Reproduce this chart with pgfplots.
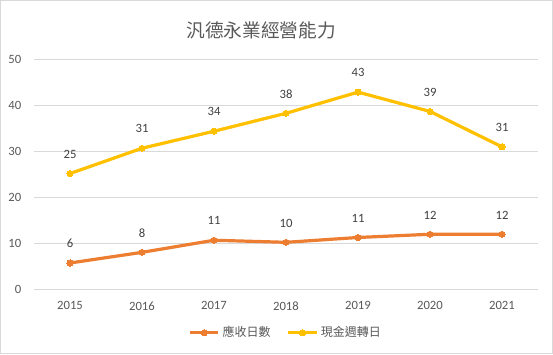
\documentclass[border=0pt]{standalone}
\usepackage{pgfplots}
\pgfplotsset{compat=1.18}
\usepackage{fontspec}
\setmainfont{Carlito}
\newfontfamily\cjk{Noto Sans CJK TC}
\definecolor{c1}{HTML}{ED7D31}
\definecolor{c2}{HTML}{FFC000}
\definecolor{txt}{HTML}{595959}
\definecolor{lbl}{HTML}{404040}
\definecolor{gridc}{HTML}{D9D9D9}
\begin{document}
\begin{tikzpicture}[x=0.75pt,y=0.75pt]
\path[use as bounding box] (0,0) rectangle (553,354);
\draw[color=gridc, line width=0.75pt] (0.5,0.5) rectangle (552.5,353.5);
\node[text=txt, font=\cjk\fontsize{14}{16}\selectfont] at (261,324) {汎德永業經營能力};
\begin{axis}[
  at={(25.5pt,48.75pt)}, anchor=south west,
  scale only axis, width=378pt, height=172.5pt,
  xmin=2014.5, xmax=2021.5, ymin=0, ymax=50,
  xtick={2015,...,2021}, ytick={0,10,...,50},
  xticklabel style={/pgf/number format/1000 sep={}, yshift=-6pt},
  yticklabel style={xshift=-6pt},
  /pgf/number format/assume math mode=true,
  tick label style={font=\fontsize{9.5}{11}\selectfont, text=txt},
  major tick length=0pt,
  axis line style={draw=none},
  ymajorgrids, grid style={gridc, line width=0.75pt},
  nodes near coords={\pgfmathprintnumber[fixed,precision=0]{\pgfplotspointmeta}},
  every node near coord/.append style={font=\fontsize{9.5}{11}\selectfont, text=lbl, anchor=center, yshift=14.5pt},
  legend columns=2,
  legend style={draw=none, at={(axis description cs:0.5,-0.19)}, anchor=center, font=\cjk\fontsize{9}{11}\selectfont, text=txt, /tikz/every even column/.append style={column sep=10pt}},
  legend image code/.code={\draw[#1] (0cm,0cm) -- (0.75cm,0cm); \draw[#1, mark repeat=1] plot coordinates {(0.375cm,0cm)};},
]
\addplot[c1, line width=2.4pt, mark=*, mark size=2.3pt, mark options={solid, fill=c1, draw=c1, line width=0pt}] coordinates {
(2015,5.65) (2016,7.97) (2017,10.6) (2018,10.15) (2019,11.2) (2020,11.9) (2021,11.9)};
\addlegendentry{應收日數}
\addplot[c2, line width=2.4pt, mark=*, mark size=2.3pt, mark options={solid, fill=c2, draw=c2, line width=0pt}] coordinates {
(2015,25.1) (2016,30.6) (2017,34.3) (2018,38.2) (2019,42.8) (2020,38.6) (2021,30.9)};
\addlegendentry{現金週轉日}
\end{axis}
\end{tikzpicture}
\end{document}
